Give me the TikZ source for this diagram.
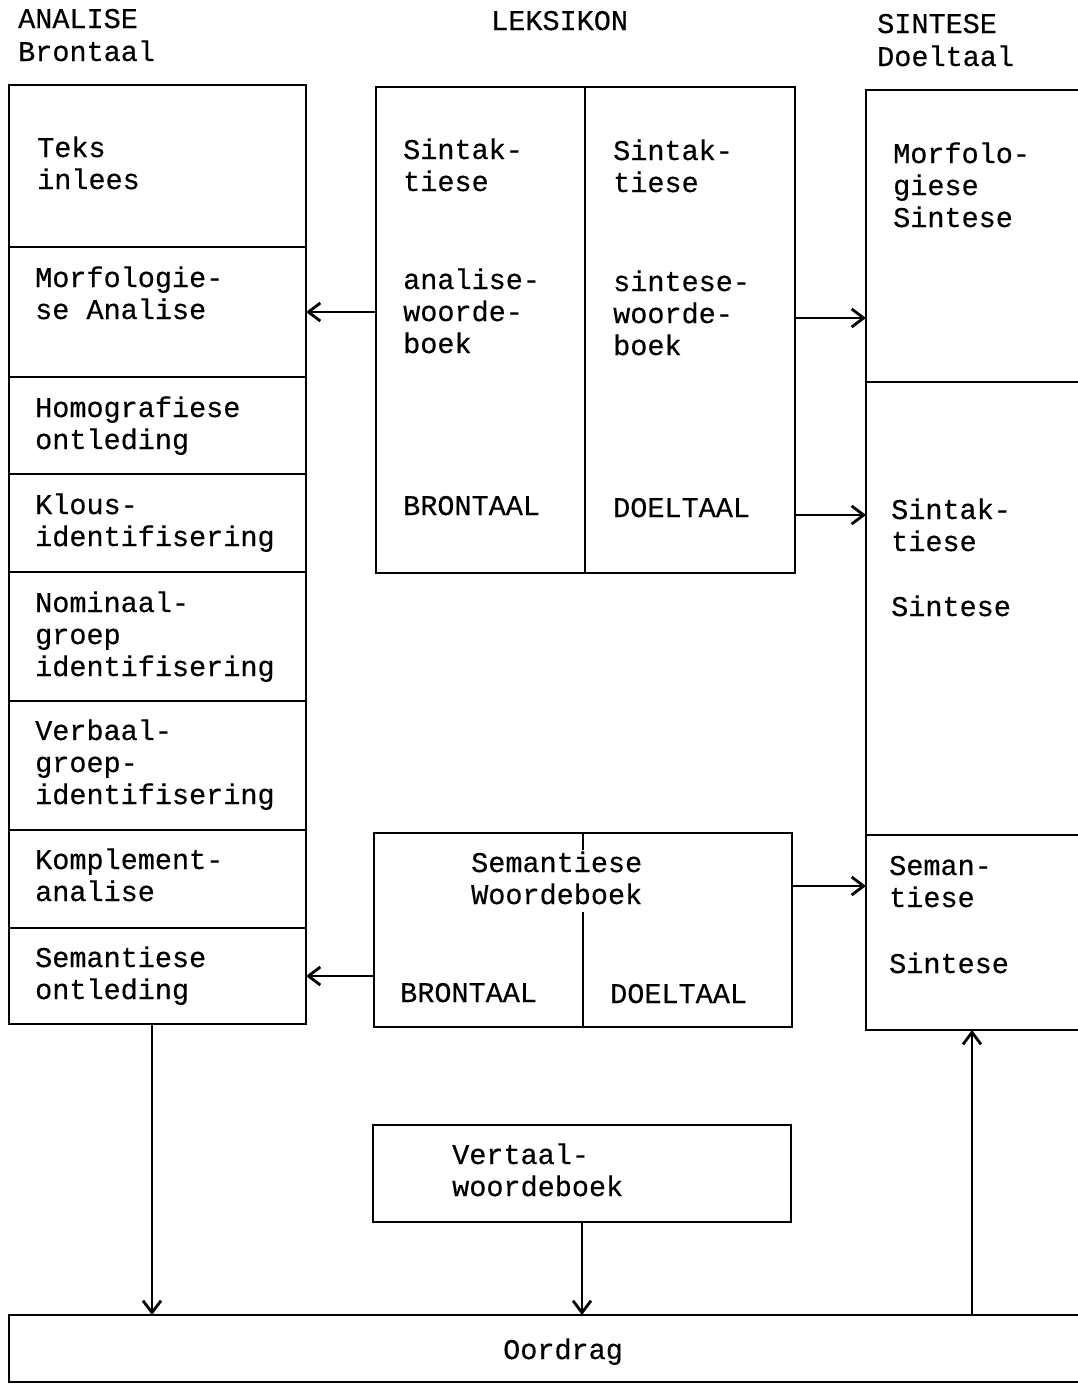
\documentclass[tikz,border=0pt]{standalone}
\usepackage{fontspec}
\setmonofont[FakeBold=0.4]{Liberation Mono}
\usetikzlibrary{arrows.meta}

\begin{document}
\begin{tikzpicture}[x=1pt, y=-1pt,
  box/.style={draw, line width=2.8pt, inner sep=0pt, outer sep=0pt, anchor=north west},
  lbl/.style={anchor=base west, inner sep=0pt, align=left,
              font=\ttfamily\fontsize{28.5}{32}\selectfont},
  rule/.style={line width=2.8pt},
  arr/.style={line width=2.8pt, -{Straight Barb[length=12pt, width=18pt]}}]

\useasboundingbox (0,0) rectangle (1078,1384);

% column headings (a node's base is the baseline of its last line)
\node[lbl] (hA) at (18,61) {ANALISE\\[1pt]Brontaal};
\node[lbl] (hL) at (491,30) {LEKSIKON};
\node[lbl] (hS) at (877,66) {SINTESE\\[1pt]Doeltaal};

% analysis column
\node[box, minimum width=297pt, minimum height=162pt] (teks)  at (9,85)  {};
\node[box, minimum width=297pt, minimum height=130pt] (morf)  at (9,247) {};
\node[box, minimum width=297pt, minimum height=97pt]  (homo)  at (9,377) {};
\node[box, minimum width=297pt, minimum height=98pt]  (klous) at (9,474) {};
\node[box, minimum width=297pt, minimum height=129pt] (nom)   at (9,572) {};
\node[box, minimum width=297pt, minimum height=129pt] (verb)  at (9,701) {};
\node[box, minimum width=297pt, minimum height=98pt]  (komp)  at (9,830) {};
\node[box, minimum width=297pt, minimum height=96pt]  (sem)   at (9,928) {};

\node[lbl] (tTeks)  at (37,189) {Teks\\inlees};
\node[lbl] (tMorf)  at (35,319) {Morfologie-\\se Analise};
\node[lbl] (tHomo)  at (35,449) {Homografiese\\ontleding};
\node[lbl] (tKlous) at (35,546) {Klous-\\identifisering};
\node[lbl] (tNom)   at (35,676) {Nominaal-\\groep\\identifisering};
\node[lbl] (tVerb)  at (35,804) {Verbaal-\\groep-\\identifisering};
\node[lbl] (tKomp)  at (35,901) {Komplement-\\analise};
\node[lbl] (tSem)   at (35,999) {Semantiese\\ontleding};

% lexicon
\node[box, minimum width=209pt, minimum height=486pt] (lexB) at (376,87) {};
\node[box, minimum width=210pt, minimum height=486pt] (lexD) at (585,87) {};

\node[lbl] (tSinB) at (403,191) {Sintak-\\tiese};
\node[lbl] (tAnaW) at (403,353) {analise-\\woorde-\\boek};
\node[lbl] (tBron) at (403,515) {BRONTAAL};
\node[lbl] (tSinD) at (613,192) {Sintak-\\tiese};
\node[lbl] (tSinW) at (613,355) {sintese-\\woorde-\\boek};
\node[lbl] (tDoel) at (613,517) {DOELTAAL};

% synthesis column
\node[box, minimum width=240pt, minimum height=292pt] (morfS) at (866,90)  {};
\node[box, minimum width=240pt, minimum height=453pt] (sintS) at (866,382) {};
\node[box, minimum width=240pt, minimum height=195pt] (semS)  at (866,835) {};

\node[lbl] (tMorfS) at (893,227) {Morfolo-\\giese\\Sintese};
\node[lbl] (tSintS) at (891,551) {Sintak-\\tiese};
\node[lbl] (tSintX) at (891,616) {Sintese};
\node[lbl] (tSemS)  at (889,907) {Seman-\\tiese};
\node[lbl] (tSemX)  at (889,973) {Sintese};

% semantic dictionary
\node[box, minimum width=418pt, minimum height=194pt] (semW) at (374,833) {};
\draw[rule] (583,833) -- (583,850);
\draw[rule] (583,912) -- (583,1027);
\node[lbl] (tSemW)  at (471,904) {Semantiese\\Woordeboek};
\node[lbl] (tBron2) at (400,1002) {BRONTAAL};
\node[lbl] (tDoel2) at (610,1003) {DOELTAAL};

% translation dictionary and transfer
\node[box, minimum width=418pt, minimum height=97pt] (vert) at (373,1125) {};
\node[lbl] (tVert) at (452,1196) {Vertaal-\\woordeboek};

\node[box, minimum width=1100pt, minimum height=67pt] (oord) at (9,1315) {};
\node[lbl] (tOord) at (503,1359) {Oordrag};

% connectors
\draw[arr] (lexB.west |- morf.east) -- (morf.east);
\draw[arr] (lexD.east |- 0,318) -- (morfS.west |- 0,318);
\draw[arr] (lexD.east |- 0,515) -- (sintS.west |- 0,515);
\draw[arr] (semW.east |- 0,886) -- (semS.west |- 0,886);
\draw[arr] (semW.west |- sem.east) -- (sem.east);
\draw[arr] (sem.south -| 152,0) -- (oord.north -| 152,0);
\draw[arr] (vert.south) -- (vert.south |- oord.north);
\draw[arr] (oord.north -| 972,0) -- (semS.south -| 972,0);

\end{tikzpicture}
\end{document}
